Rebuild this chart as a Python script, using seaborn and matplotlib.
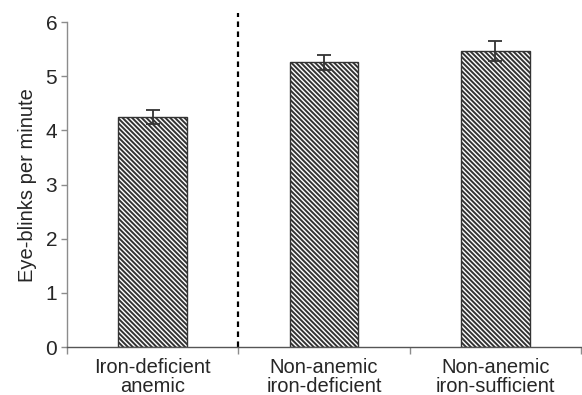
import matplotlib
matplotlib.use('Agg')
import matplotlib.pyplot as plt
import seaborn as sns
import pandas as pd

groups = ['Iron-deficient\nanemic', 'Non-anemic\niron-deficient', 'Non-anemic\niron-sufficient']
blinks = [4.24, 5.26, 5.47]
sem = [0.13, 0.14, 0.18]

sns.set_style('white')
plt.rcParams['font.family'] = ['Liberation Sans', 'DejaVu Sans']
plt.rcParams['hatch.linewidth'] = 1.4
plt.rcParams['hatch.color'] = 'black'

df = pd.DataFrame({'group': groups, 'blinks': blinks, 'sem': sem})

fig = plt.figure(figsize=(5.82, 3.95), dpi=100)
ax = fig.add_axes([0.115, 0.1215, 0.8835, 0.8225])

sns.barplot(data=df, x='group', y='blinks', ax=ax, color='white', width=0.4,
            edgecolor='#333333', linewidth=1.0, hatch='\\' * 7, errorbar=None)

ax.errorbar(x=range(len(groups)), y=df['blinks'], yerr=df['sem'], fmt='none',
            ecolor='#333333', elinewidth=1.3, capsize=5, capthick=1.3)

# dashed separator between the anemic group and the others
ax.axvline(0.5, ymin=0, ymax=6.17 / 6, color='black', linestyle=(0, (2.5, 2)),
           linewidth=1.6, clip_on=False)

ax.set_xlim(-0.5, 2.5)
ax.set_ylim(0, 6)
ax.set_yticks(range(0, 7))
ax.set_xlabel('')
ax.set_ylabel('Eye-blinks per minute', fontsize=14.5, labelpad=6)

for s in ['top', 'right']:
    ax.spines[s].set_visible(False)
ax.spines['left'].set_color('#8c8c8c')
ax.spines['bottom'].set_color('#555555')
ax.spines['left'].set_linewidth(1.0)
ax.spines['bottom'].set_linewidth(1.0)

ax.tick_params(axis='y', which='major', direction='out', length=4, width=1,
               color='#8c8c8c', labelsize=15, pad=3, left=True)
ax.tick_params(axis='x', which='major', length=0, labelsize=14.5, pad=8)
ax.set_xticks([-0.5, 0.5, 1.5, 2.5], minor=True)
ax.tick_params(axis='x', which='minor', direction='out', length=5, width=1,
               color='#8c8c8c', bottom=True)
for lbl in ax.get_xticklabels():
    lbl.set_linespacing(1.0)

fig.savefig('out.png', dpi=100)
